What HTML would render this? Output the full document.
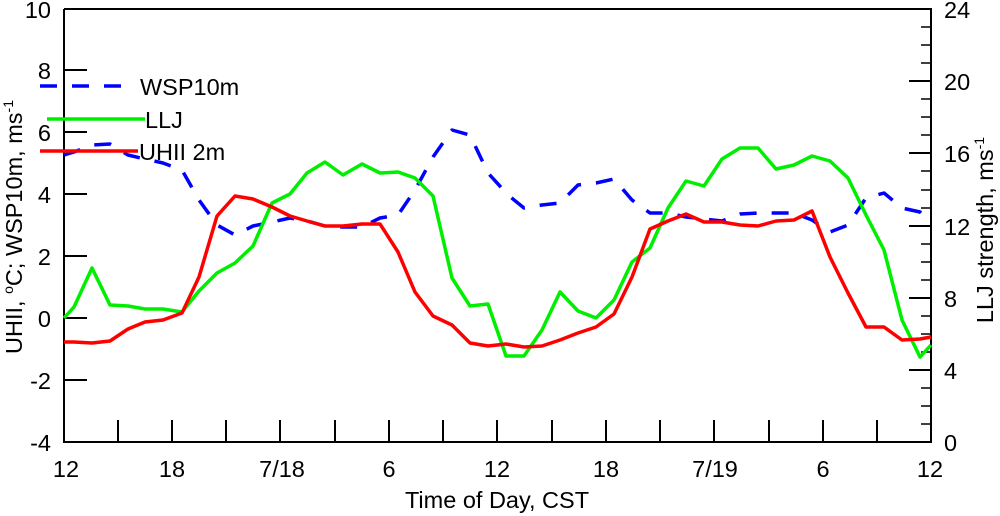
<!DOCTYPE html>
<html><head><meta charset="utf-8"><style>
html,body{margin:0;padding:0;background:#fff;}
svg{display:block;font-family:"Liberation Sans",sans-serif;}
</style></head><body>
<svg width="1000" height="516" viewBox="0 0 1000 516" xmlns="http://www.w3.org/2000/svg">
<rect width="1000" height="516" fill="#fff"/>
<g stroke="#000" stroke-width="2" fill="none">
<polyline points="64,9 64,442 931,442 931,9 64,9"/>
<path d="M64,70H87 M64,132H87 M64,194H87 M64,256H87 M64,318H87 M64,380H87"/>
<path d="M118,442V420 M172,442V420 M226,442V420 M280,442V420 M335,442V420 M389,442V420 M443,442V420 M497,442V420 M552,442V420 M606,442V420 M660,442V420 M714,442V420 M769,442V420 M823,442V420 M877,442V420"/>
<path d="M931,370H909 M931,298H909 M931,226H909 M931,153H909 M931,81H909"/>
<path stroke-width="1.5" d="M931,424H921 M931,406H921 M931,388H921 M931,352H921 M931,334H921 M931,316H921 M931,280H921 M931,262H921 M931,244H921 M931,208H921 M931,190H921 M931,171H921 M931,135H921 M931,117H921 M931,99H921 M931,63H921 M931,45H921 M931,27H921"/>
</g>
<g font-size="23.5" fill="#000">
<g text-anchor="end">
<text x="51" y="18">10</text><text x="51" y="79">8</text><text x="51" y="141">6</text><text x="51" y="203">4</text><text x="51" y="265">2</text><text x="51" y="327">0</text><text x="51" y="389">-2</text><text x="51" y="451">-4</text>
</g>
<g text-anchor="start">
<text x="944" y="18">24</text><text x="944" y="90">20</text><text x="944" y="162">16</text><text x="944" y="235">12</text><text x="944" y="307">8</text><text x="944" y="379">4</text><text x="944" y="451">0</text>
</g>
<g text-anchor="middle">
<text x="66" y="477">12</text><text x="172" y="477">18</text><text x="282" y="477">7/18</text><text x="389" y="477">6</text><text x="497" y="477">12</text><text x="606" y="477">18</text><text x="715" y="477">7/19</text><text x="823" y="477">6</text><text x="930" y="477">12</text>
<text x="497" y="508">Time of Day, CST</text>
</g>
<text transform="translate(22,227) rotate(-90)" text-anchor="middle">UHII, <tspan font-size="14" dy="-9">o</tspan><tspan dy="9">C; WSP10m, ms</tspan><tspan font-size="14" dy="-9">-1</tspan></text>
<text transform="translate(993,230) rotate(-90)" text-anchor="middle">LLJ strength, ms<tspan font-size="14" dy="-9">-1</tspan></text>
<text x="140" y="95">WSP10m</text>
<text x="145" y="128">LLJ</text>
<text x="139" y="160">UHII 2m</text>
</g>
<g fill="none" stroke-width="3.5" stroke-linejoin="round">
<polyline stroke="#0000ff" stroke-dasharray="17,15" points="64,155 74,152 92,145 110,144 128,155 145,159 163,163 182,170 199,200 217,225 235,235 253,226 272,222 290,218 307,221 325,226 343,227 362,227 380,218 398,215 415,190 433,157 452,130 470,135 488,173 508,195 524,208 542,205 560,203 578,185 596,183 614,179 632,200 650,213 668,213 686,217 704,219 722,221 740,214 758,213 776,213 794,213 812,220 830,232 848,225 866,198 884,193 902,208 920,212 931,223"/>
<polyline stroke="#00ee00" points="64,318 74,307 92,268 110,305 128,306 145,309 163,309 182,312 199,291 217,273 235,263 253,246 272,203 290,194 307,173 325,162 343,175 362,164 380,173 398,172 415,178 433,196 452,278 470,306 488,304 506,356 524,356 542,330 560,292 578,311 596,318 614,300 632,262 650,248 668,208 686,181 704,186 722,159 740,148 758,148 776,169 794,165 812,156 830,161 848,178 866,215 884,250 902,320 920,357 931,345"/>
<polyline stroke="#ff0000" points="64,342 74,342 92,343 110,341 128,329 145,322 163,320 182,313 199,277 217,216 235,196 253,199 272,207 290,216 307,221 325,226 343,226 362,224 380,224 398,252 415,292 433,316 452,325 470,343 488,346 506,344 524,347 542,346 560,340 578,333 596,327 614,314 632,277 650,229 668,221 686,214 704,222 722,222 740,225 758,226 776,221 794,220 812,211 830,257 848,293 866,327 884,327 902,340 920,339 931,337"/>
<line x1="40" y1="86" x2="125" y2="86" stroke="#0000ff" stroke-dasharray="17,15"/>
<line x1="47" y1="119" x2="145" y2="119" stroke="#00ee00"/>
<line x1="40" y1="151" x2="138" y2="151" stroke="#ff0000"/>
</g>
</svg>
</body></html>
